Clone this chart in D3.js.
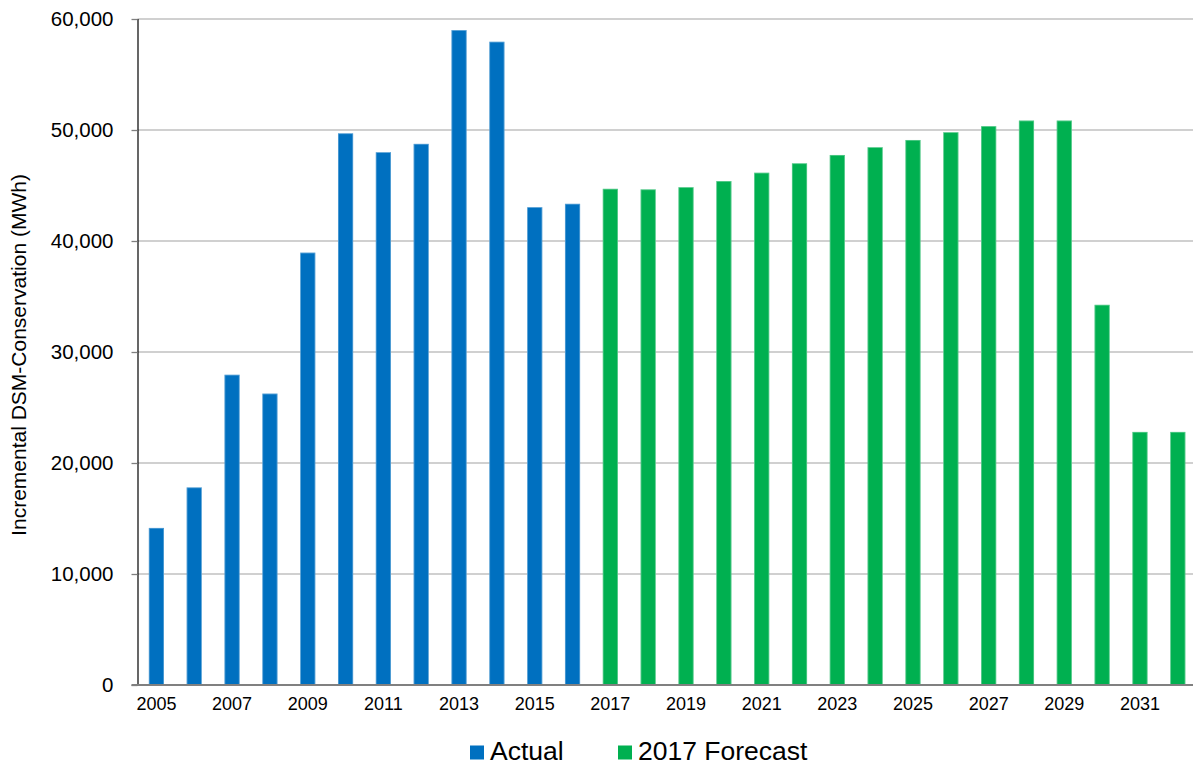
<!DOCTYPE html>
<html>
<head>
<meta charset="utf-8">
<script src="https://cdn.jsdelivr.net/npm/d3@7"></script>
<style>
  html, body { margin: 0; padding: 0; background: #fff; }
  svg { display: block; font-family: "Liberation Sans", Arial, sans-serif; }
</style>
</head>
<body>
<svg id="chart" width="1193" height="766"></svg>
<script>
// Incremental DSM conservation by year: actuals and the 2017 forecast
const years = d3.range(2005, 2033).map(String);
const actualYears = years.slice(0, 12);   // 2005-2016
const forecastYears = years.slice(12);    // 2017-2032
const actualValues = [14150, 17800, 27950, 26250, 38950, 49700, 48000, 48750, 59000, 57950, 43050, 43350];
const forecastValues = [44700, 44650, 44850, 45400, 46150, 47000, 47750, 48450, 49100, 49800, 50350, 50850, 50850, 34250, 22800, 22800];
const yTicks = [0, 10000, 20000, 30000, 40000, 50000, 60000];
const xTickLabels = years.filter((d, i) => i % 2 === 0);
const seriesNames = ["Actual", "2017 Forecast"];
const seriesColors = ["#0070C0", "#00B050"];
const yTitle = "Incremental DSM-Conservation (MWh)";

const svg = d3.select("#chart");
const plotLeft = 137.5, plotRight = 1196.7, plotTop = 19, plotBottom = 685;

const x = d3.scaleBand().domain(years).range([plotLeft, plotRight]).paddingInner(0.6).paddingOuter(0.3);
const y = d3.scaleLinear().domain([0, 60000]).range([plotBottom, plotTop]);

// horizontal gridlines
svg.append("g")
  .selectAll("line")
  .data(yTicks.filter(d => d > 0))
  .join("line")
  .attr("x1", plotLeft).attr("x2", plotRight)
  .attr("y1", d => y(d)).attr("y2", d => y(d))
  .attr("stroke", "#c0c0c0").attr("stroke-width", 1.3);

// bars
const bars = [
  ...actualYears.map((yr, i) => ({ yr, v: actualValues[i], s: 0 })),
  ...forecastYears.map((yr, i) => ({ yr, v: forecastValues[i], s: 1 }))
];
svg.append("g")
  .selectAll("rect")
  .data(bars)
  .join("rect")
  .attr("x", d => x(d.yr))
  .attr("y", d => y(d.v))
  .attr("width", x.bandwidth())
  .attr("height", d => y(0) - y(d.v))
  .attr("fill", d => seriesColors[d.s]);

// light bar outlines
svg.append("g")
  .selectAll("rect")
  .data(bars)
  .join("rect")
  .attr("x", d => x(d.yr) + 0.4)
  .attr("y", d => y(d.v) + 0.4)
  .attr("width", x.bandwidth() - 0.8)
  .attr("height", d => y(0) - y(d.v) - 0.4)
  .attr("fill", "none")
  .attr("stroke", "#ffffff").attr("stroke-opacity", 0.35).attr("stroke-width", 0.8);

// y axis
const yAxis = svg.append("g")
  .attr("transform", `translate(${plotLeft},0)`)
  .call(d3.axisLeft(y).tickValues(yTicks).tickSize(6).tickPadding(18).tickFormat(d3.format(",")));
yAxis.select(".domain").attr("stroke", "#000").attr("stroke-width", 1.2)
  .attr("d", `M0.5,${plotTop}V${plotBottom}`);
yAxis.selectAll(".tick line").attr("stroke", "#808080").attr("stroke-width", 1.3);
yAxis.selectAll(".tick text").attr("font-size", 20.5).attr("fill", "#000")
  .attr("font-family", "Liberation Sans, Arial, sans-serif");

// x axis
const xAxis = svg.append("g")
  .attr("transform", `translate(0,${plotBottom})`)
  .call(d3.axisBottom(x).tickValues(xTickLabels).tickSize(0).tickPadding(12));
xAxis.select(".domain").attr("stroke", "#808080").attr("stroke-width", 2)
  .attr("d", `M${plotLeft - 6},0H${plotRight}`);
xAxis.selectAll(".tick text").attr("font-size", 18).attr("fill", "#000")
  .attr("font-family", "Liberation Sans, Arial, sans-serif");

// y axis title
svg.append("text")
  .attr("transform", "translate(26,355) rotate(-90)")
  .attr("text-anchor", "middle")
  .attr("font-size", 21)
  .attr("fill", "#000")
  .text(yTitle);

// legend
const legendItems = [
  { name: seriesNames[0], color: seriesColors[0], x: 470 },
  { name: seriesNames[1], color: seriesColors[1], x: 618 }
];
const lg = svg.append("g").selectAll("g").data(legendItems).join("g")
  .attr("transform", d => `translate(${d.x},745.5)`);
lg.append("rect").attr("width", 14).attr("height", 14).attr("fill", d => d.color);
lg.append("text").attr("x", 20).attr("y", 14.5)
  .attr("font-size", 26.5).attr("fill", "#000").text(d => d.name);
</script>
</body>
</html>
